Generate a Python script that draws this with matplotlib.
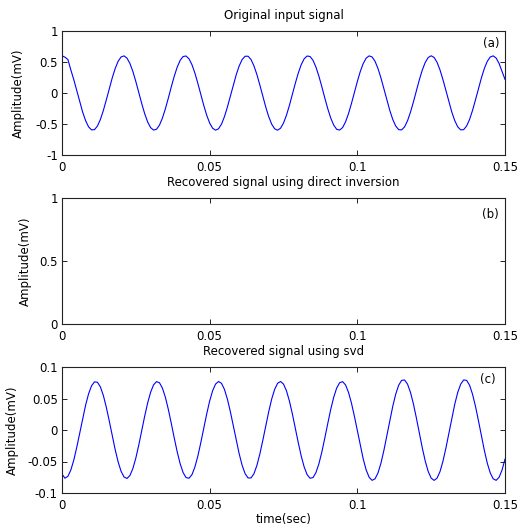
import numpy as np
import matplotlib
matplotlib.use("Agg")
import matplotlib.pyplot as plt

# time axis: 1 ms samples from 0 to 0.15 s
t = np.linspace(0, 0.15, 151)

# (a) original input signal (mV)
original = [
    0.600, 0.578, 0.540, 0.371, 0.214, 0.038, -0.142, -0.309, -0.447, -0.546,
    -0.595, -0.591, -0.533, -0.427, -0.282, -0.112, 0.068, 0.242, 0.394, 0.511,
    0.581, 0.599, 0.563, 0.476, 0.347, 0.185, 0.008, -0.171, -0.334, -0.467,
    -0.558, -0.598, -0.585, -0.518, -0.405, -0.255, -0.083, 0.098, 0.269, 0.416,
    0.526, 0.588, 0.597, 0.552, 0.457, 0.321, 0.156, -0.023, -0.200, -0.359,
    -0.485, -0.568, -0.600, -0.577, -0.503, -0.382, -0.228, -0.053, 0.127, 0.296,
    0.437, 0.540, 0.593, 0.593, 0.540, 0.437, 0.296, 0.127, -0.053, -0.228,
    -0.382, -0.503, -0.577, -0.600, -0.568, -0.485, -0.359, -0.200, -0.023, 0.156,
    0.321, 0.457, 0.552, 0.597, 0.588, 0.526, 0.416, 0.269, 0.098, -0.083,
    -0.255, -0.405, -0.518, -0.585, -0.598, -0.558, -0.467, -0.334, -0.171, 0.008,
    0.185, 0.347, 0.476, 0.563, 0.599, 0.581, 0.511, 0.394, 0.242, 0.068,
    -0.112, -0.282, -0.427, -0.533, -0.591, -0.595, -0.546, -0.447, -0.309, -0.142,
    0.038, 0.214, 0.371, 0.494, 0.573, 0.600, 0.573, 0.494, 0.371, 0.214,
    0.038, -0.142, -0.309, -0.447, -0.546, -0.595, -0.591, -0.533, -0.427, -0.282,
    -0.112, 0.068, 0.242, 0.394, 0.511, 0.581, 0.599, 0.563, 0.476, 0.347,
    0.220,
]

# (c) recovered signal using svd (mV)
recovered_svd = [
    -0.0700, -0.0765, -0.0735, -0.0634, -0.0476, -0.0274, -0.0048, 0.0182, 0.0396, 0.0574,
    0.0701, 0.0764, 0.0758, 0.0684, 0.0548, 0.0362, 0.0144, -0.0087, -0.0310, -0.0506,
    -0.0655, -0.0746, -0.0769, -0.0723, -0.0611, -0.0445, -0.0238, -0.0010, 0.0220, 0.0429,
    0.0599, 0.0716, 0.0768, 0.0750, 0.0665, 0.0520, 0.0328, 0.0106, -0.0125, -0.0345,
    -0.0534, -0.0675, -0.0755, -0.0766, -0.0709, -0.0587, -0.0413, -0.0201, 0.0029, 0.0256,
    0.0460, 0.0623, 0.0729, 0.0770, 0.0741, 0.0645, 0.0491, 0.0292, 0.0068, -0.0163,
    -0.0379, -0.0561, -0.0693, -0.0761, -0.0761, -0.0693, -0.0561, -0.0379, -0.0163, 0.0068,
    0.0292, 0.0491, 0.0645, 0.0741, 0.0770, 0.0729, 0.0623, 0.0460, 0.0256, 0.0029,
    -0.0201, -0.0413, -0.0587, -0.0709, -0.0766, -0.0755, -0.0675, -0.0534, -0.0345, -0.0125,
    0.0106, 0.0328, 0.0520, 0.0665, 0.0750, 0.0768, 0.0716, 0.0599, 0.0429, 0.0220,
    -0.0010, -0.0247, -0.0462, -0.0635, -0.0751, -0.0799, -0.0775, -0.0681, -0.0526, -0.0322,
    -0.0090, 0.0150, 0.0377, 0.0569, 0.0711, 0.0788, 0.0794, 0.0728, 0.0597, 0.0412,
    0.0189, -0.0050, -0.0285, -0.0494, -0.0659, -0.0764, -0.0800, -0.0764, -0.0659, -0.0494,
    -0.0285, -0.0050, 0.0189, 0.0412, 0.0597, 0.0728, 0.0794, 0.0788, 0.0711, 0.0569,
    0.0377, 0.0150, -0.0090, -0.0322, -0.0526, -0.0681, -0.0775, -0.0799, -0.0751, -0.0635,
    -0.0462,
]

titles = ["Original input signal",
          "Recovered signal using direct inversion",
          "Recovered signal using svd"]
panel_tags = ["(a)", "(b)", "(c)"]
xticks = [0, 0.05, 0.1, 0.15]
xtick_labels = ["0", "0.05", "0.1", "0.15"]
yticks_a = [-1, -0.5, 0, 0.5, 1]
ytick_labels_a = ["-1", "-0.5", "0", "0.5", "1"]
yticks_b = [0, 0.5, 1]
ytick_labels_b = ["0", "0.5", "1"]
yticks_c = [-0.1, -0.05, 0, 0.05, 0.1]
ytick_labels_c = ["-0.1", "-0.05", "0", "0.05", "0.1"]

plt.rcParams['font.family'] = ['DejaVu Sans']
FS = 8.5

W, H = 532, 530
fig = plt.figure(figsize=(W / 100, H / 100), dpi=100)

# axes boxes in pixels: (top, bottom)
boxes = [(31, 155), (198, 324), (367, 493)]
left_px, right_px = 62, 505
axes = []
for top, bot in boxes:
    ax = fig.add_axes([left_px / W, 1 - bot / H, (right_px - left_px) / W, (bot - top) / H])
    axes.append(ax)

line_kw = dict(color='#0000ff', lw=0.8)
axes[0].plot(t, original, **line_kw)
axes[2].plot(t, recovered_svd, **line_kw)

ylims = [(-1, 1), (0, 1), (-0.1, 0.1)]
yticks = [yticks_a, yticks_b, yticks_c]
ylabels = [ytick_labels_a, ytick_labels_b, ytick_labels_c]
ylabel_x = [-0.0835, -0.0677, -0.097]
tag_pos = [(0.970, 0.903), (0.966, 0.871), (0.962, 0.897)]

for i, ax in enumerate(axes):
    ax.set_xlim(0, 0.15)
    ax.set_ylim(*ylims[i])
    ax.set_xticks(xticks)
    ax.set_xticklabels(xtick_labels)
    ax.set_yticks(yticks[i])
    ax.set_yticklabels(ylabels[i])
    ax.tick_params(direction='in', length=3.3, width=0.6, top=True, right=True,
                   labelsize=FS, colors='k')
    ax.tick_params(axis='x', pad=4)
    ax.tick_params(axis='y', pad=3)
    for s in ax.spines.values():
        s.set_linewidth(0.8)
        s.set_color('#222222')
    ax.set_title(titles[i], fontsize=FS, pad=8.5)
    ax.set_ylabel("Amplitude(mV)", fontsize=FS)
    ax.yaxis.set_label_coords(ylabel_x[i], 0.5)
    ax.text(tag_pos[i][0], tag_pos[i][1], panel_tags[i], transform=ax.transAxes,
            ha='center', va='center', fontsize=FS)

axes[2].set_xlabel("time(sec)", fontsize=FS, labelpad=1)

fig.savefig("out.png", dpi=100)
